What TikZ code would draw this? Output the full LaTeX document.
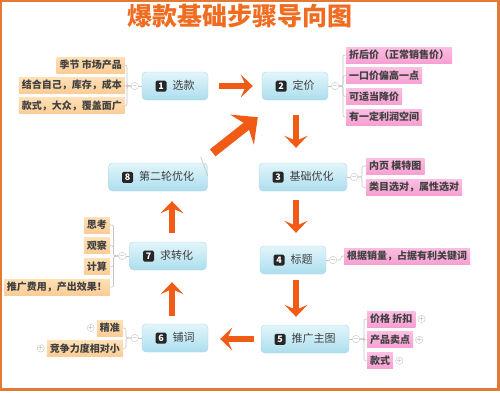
\documentclass[tikz,border=0pt]{standalone}
\usepackage{fontspec}
\setmainfont{Noto Sans CJK SC}
\usetikzlibrary{arrows.meta,positioning,calc}
\definecolor{kuang}{RGB}{226,122,54}
\definecolor{jianse}{RGB}{240,92,22}
\definecolor{tise}{RGB}{240,108,32}
\definecolor{landing}{RGB}{226,245,251}
\definecolor{landi}{RGB}{172,222,238}
\definecolor{lanbian}{RGB}{178,214,228}
\definecolor{cheng}{RGB}{254,224,182}
\definecolor{chengdi}{RGB}{251,204,150}
\definecolor{fen}{RGB}{251,190,226}
\definecolor{fendi}{RGB}{246,160,210}
\definecolor{xianse}{RGB}{196,196,196}
\definecolor{zi}{RGB}{64,64,64}
\newcommand\hao[1]{\tikz[baseline=(h.base)]\node[haokuai] (h) {#1};}
\tikzset{
  zhu/.style={draw=lanbian,top color=landing,bottom color=landi,rounded corners=4pt,
    minimum height=28pt,inner xsep=13.5pt,font=\fontsize{11}{13}\selectfont,text=zi},
  haokuai/.style={fill=black!85,text=white,rounded corners=1.5pt,inner sep=0pt,
    minimum size=11pt,font=\bfseries\fontsize{9}{9}\selectfont},
  ye/.style={minimum height=16pt,inner xsep=3pt,inner ysep=0pt,
    font=\bfseries\fontsize{10}{12}\selectfont,text=zi},
  cye/.style={ye,top color=cheng,bottom color=chengdi},
  fye/.style={ye,top color=fen,bottom color=fendi},
  kai/.style={circle,draw=xianse,fill=white,inner sep=0pt,minimum size=7pt,
    font=\fontsize{6}{6}\selectfont,text=gray},
  xian/.style={draw=xianse,line width=0.6pt},
  jian/.style={draw=jianse,line width=5.5pt,-{Stealth[length=12pt,width=23pt,inset=5pt]}},
  dajian/.style={draw=jianse,line width=9pt,-{Stealth[length=20pt,width=38pt,inset=7pt]}},
}
\begin{document}
\begin{tikzpicture}[x=1pt,y=-1pt]
  \useasboundingbox (0,0) rectangle (500,392);
  \draw[kuang,line width=2.5pt] (1,1) rectangle (498.5,389.5);
  \node[font=\bfseries\fontsize{25}{28}\selectfont,text=tise] (ti) at (240,16) {爆款基础步骤导向图};

  % main steps
  \node[zhu] (1) at (175,86) {\hao{1}\hspace{6pt}选款};
  \node[zhu] (2) at (295,86) {\hao{2}\hspace{6pt}定价};
  \node[zhu] (3) at (303,177) {\hao{3}\hspace{6pt}基础优化};
  \node[zhu] (4) at (293,260) {\hao{4}\hspace{6pt}标题};
  \node[zhu] (5) at (305,339) {\hao{5}\hspace{6pt}推广主图};
  \node[zhu] (6) at (175,338) {\hao{6}\hspace{6pt}铺词};
  \node[zhu] (7) at (168,256) {\hao{7}\hspace{6pt}求转化};
  \node[zhu] (8) at (158,177) {\hao{8}\hspace{6pt}第二轮优化};

  % collapse buttons
  \node[kai,left=3pt of 1] (c1) {$-$};
  \node[kai,right=3pt of 2] (c2) {$-$};
  \node[kai,right=3pt of 3] (c3) {$-$};
  \node[kai,right=3pt of 4] (c4) {$-$};
  \node[kai,right=3pt of 5] (c5) {$-$};
  \node[kai,left=3pt of 6] (c6) {$-$};
  \node[kai,left=3pt of 7] (c7) {$-$};
  \coordinate[left=4pt of c1] (j1);
  \coordinate[right=4pt of c2] (j2);
  \coordinate[right=4pt of c3] (j3);
  \coordinate[right=4pt of c4] (j4);
  \coordinate[right=4pt of c5] (j5);
  \coordinate[left=5pt of c6] (j6);
  \coordinate[left=5pt of c7] (j7);

  % leaves
  \node[cye,anchor=east] (1a) at (125,65) {季节 市场产品};
  \node[cye,below=4pt of 1a.south east,anchor=north east] (1b) {结合自己，库存，成本};
  \node[cye,below=4pt of 1b.south east,anchor=north east] (1c) {款式，大众，覆盖面广};

  \node[fye,anchor=west] (2a) at (346,55) {折后价（正常销售价）};
  \node[fye,below=4.3pt of 2a.south west,anchor=north west] (2b) {一口价偏高一点};
  \node[fye,below=4.3pt of 2b.south west,anchor=north west] (2c) {可适当降价};
  \node[fye,below=4.3pt of 2c.south west,anchor=north west] (2d) {有一定利润空间};

  \node[fye,anchor=west] (3a) at (366,166) {内页 模特图};
  \node[fye,below=5pt of 3a.south west,anchor=north west] (3b) {类目选对，属性选对};

  \node[fye,anchor=west] (4a) at (344,256) {根据销量，占据有利关键词};

  \node[fye,anchor=west] (5a) at (367,319) {价格 折扣};
  \node[fye,below=4.5pt of 5a.south west,anchor=north west] (5b) {产品卖点};
  \node[fye,below=4.5pt of 5b.south west,anchor=north west] (5c) {款式};
  \node[kai,right=2pt of 5a] (p5a) {$+$};
  \node[kai,right=2pt of 5b] (p5b) {$+$};
  \node[kai,right=2pt of 5c] (p5c) {$+$};

  \node[cye,anchor=east] (6a) at (123,328) {精准};
  \node[cye,below=4pt of 6a.south east,anchor=north east] (6b) {竞争力度相对小};
  \node[kai,left=2pt of 6a] (p6a) {$+$};
  \node[kai,left=2pt of 6b] (p6b) {$+$};

  \node[cye,anchor=east] (7a) at (110,225) {思考};
  \node[cye,below=4.3pt of 7a.south east,anchor=north east] (7b) {观察};
  \node[cye,below=4.3pt of 7b.south east,anchor=north east] (7c) {计算};
  \node[cye,below=4.3pt of 7c.south east,anchor=north east] (7d) {推广费用，产出效果！};

  % thin connectors
  \foreach \n in {1,...,7} \draw[xian] (\n) -- (c\n);
  \foreach \y in {1a,1b,1c} \draw[xian,rounded corners=2pt] (c1) -- (j1) |- (\y);
  \foreach \y in {2a,2b,2c,2d} \draw[xian,rounded corners=2pt] (c2) -- (j2) |- (\y);
  \foreach \y in {3a,3b} \draw[xian,rounded corners=2pt] (c3) -- (j3) |- (\y);
  \draw[xian,rounded corners=2pt] (c4) -- (j4) |- (4a);
  \foreach \y in {5a,5b,5c} \draw[xian,rounded corners=2pt] (c5) -- (j5) |- (\y);
  \foreach \y in {6a,6b} \draw[xian,rounded corners=2pt] (c6) -- (j6) |- (\y);
  \foreach \y in {7a,7b,7c,7d} \draw[xian,rounded corners=2pt] (c7) -- (j7) |- (\y);
  \draw[xian] ([shift={(-7,-6)}]8.north east) -- ([shift={(0,13)}]8.north east);

  % flow arrows
  \draw[jian,shorten <=11pt,shorten >=9pt] (1) -- (2);
  \draw[jian,shorten <=15pt,shorten >=15pt] ([xshift=1pt]2.south) -- ([xshift=1pt]2.south |- 3.north);
  \draw[jian,shorten <=9pt,shorten >=13pt] ([xshift=1pt]2.south |- 3.south) -- ([xshift=1pt]2.south |- 4.north);
  \draw[jian,shorten <=6pt,shorten >=8pt] ([xshift=1pt]2.south |- 4.south) -- ([xshift=1pt]2.south |- 5.north);
  \draw[jian,shorten <=7pt,shorten >=12pt] (5.west) -- (5.west -| 6.east);
  \draw[jian,shorten <=8pt,shorten >=12pt] ([xshift=-3pt]6.north) -- ([xshift=-3pt]6.north |- 7.south);
  \draw[jian,shorten <=9pt,shorten >=10pt] ([xshift=-3pt]6.north |- 7.north) -- ([xshift=-3pt]6.north |- 8.south);
  \draw[dajian] ([shift={(5,-10)}]8.north east) -- ([shift={(-4,17)}]2.south west);
\end{tikzpicture}
\end{document}
